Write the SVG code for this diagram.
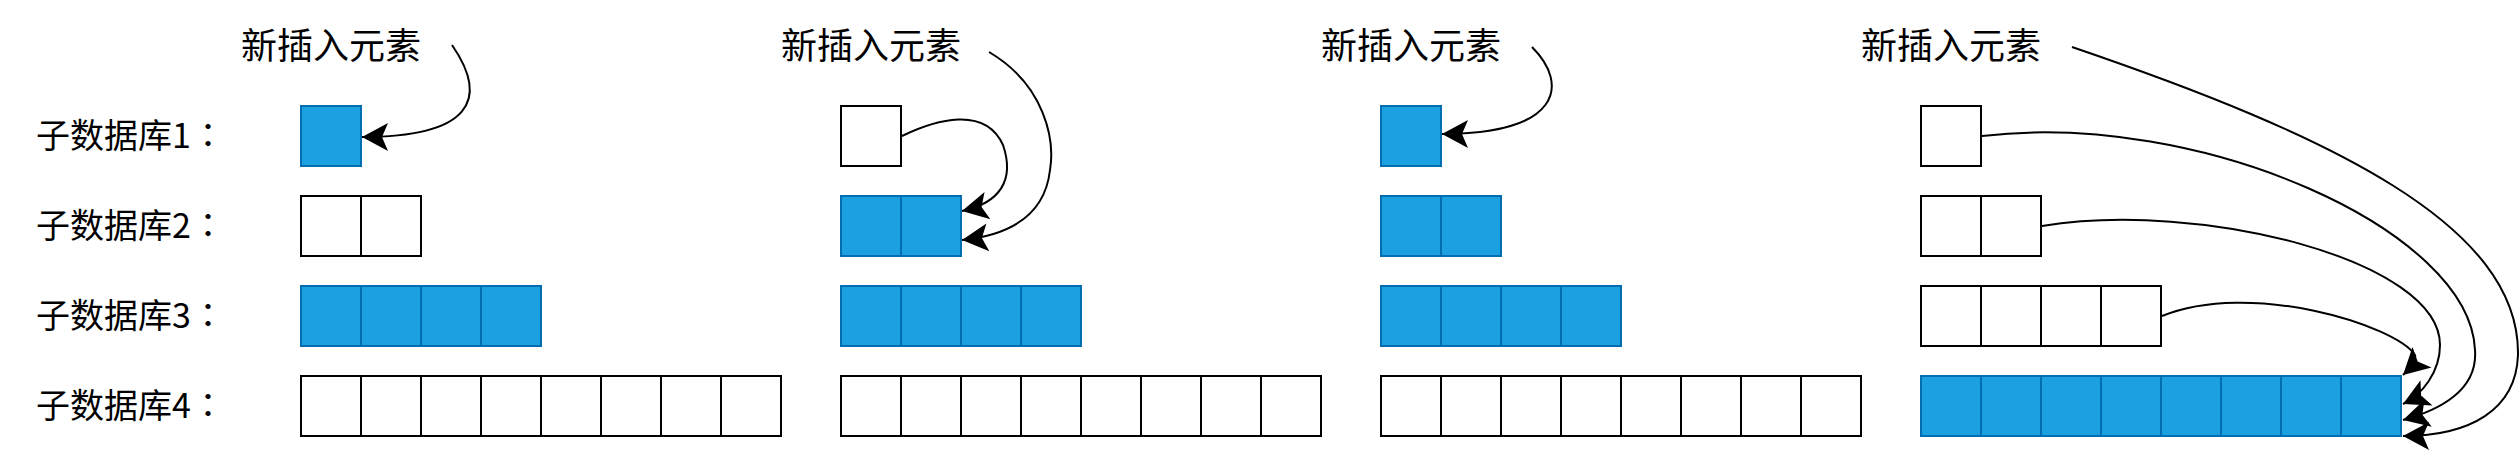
<svg xmlns="http://www.w3.org/2000/svg" width="2520" height="450" viewBox="0 0 2520 450">
<style>
.w{fill:#ffffff;stroke:#000000;stroke-width:2}
.b{fill:#1ba1e2;stroke:#006eaf;stroke-width:2}
.lbl{font-family:"Noto Sans CJK SC","Noto Sans CJK TC",sans-serif;font-size:34px;fill:#000}
.col{font-family:"Noto Sans CJK TC","Noto Sans CJK SC",sans-serif}
.top{font-family:"Noto Sans CJK SC",sans-serif;font-size:36px;fill:#000}
.edge{fill:none;stroke:#000;stroke-width:2}
</style>
<defs>
<marker id="arr" viewBox="-28 -16 30 32" refX="0" refY="0" markerWidth="30" markerHeight="32" markerUnits="userSpaceOnUse" orient="auto">
<path d="M0,0 L-26,-14 L-20,0 L-26,14 Z" fill="#000"/>
</marker>
</defs>
<rect width="2520" height="450" fill="#fff"/>
<g id="row-labels">
<text class="lbl" x="36" y="148">子数据库1<tspan class="col">：</tspan></text>
<text class="lbl" x="36" y="238">子数据库2<tspan class="col">：</tspan></text>
<text class="lbl" x="36" y="328">子数据库3<tspan class="col">：</tspan></text>
<text class="lbl" x="36" y="418">子数据库4<tspan class="col">：</tspan></text>
</g>
<g id="titles">
<text id="t1" class="top" x="331" y="59" text-anchor="middle">新插入元素</text>
<text id="t2" class="top" x="871" y="59" text-anchor="middle">新插入元素</text>
<text id="t3" class="top" x="1411" y="59" text-anchor="middle">新插入元素</text>
<text id="t4" class="top" x="1951" y="59" text-anchor="middle">新插入元素</text>
</g>
<g id="panel1" transform="translate(301,0)">
<g id="p1r1"><rect class="b" x="0" y="106" width="60" height="60"/></g>
<g id="p1r2"><rect class="w" x="0" y="196" width="60" height="60"/><rect class="w" x="60" y="196" width="60" height="60"/></g>
<g id="p1r3"><rect class="b" x="0" y="286" width="60" height="60"/><rect class="b" x="60" y="286" width="60" height="60"/><rect class="b" x="120" y="286" width="60" height="60"/><rect class="b" x="180" y="286" width="60" height="60"/></g>
<g id="p1r4"><rect class="w" x="0" y="376" width="60" height="60"/><rect class="w" x="60" y="376" width="60" height="60"/><rect class="w" x="120" y="376" width="60" height="60"/><rect class="w" x="180" y="376" width="60" height="60"/><rect class="w" x="240" y="376" width="60" height="60"/><rect class="w" x="300" y="376" width="60" height="60"/><rect class="w" x="360" y="376" width="60" height="60"/><rect class="w" x="420" y="376" width="60" height="60"/></g>
</g>
<g id="panel2" transform="translate(841,0)">
<g id="p2r1"><rect class="w" x="0" y="106" width="60" height="60"/></g>
<g id="p2r2"><rect class="b" x="0" y="196" width="60" height="60"/><rect class="b" x="60" y="196" width="60" height="60"/></g>
<g id="p2r3"><rect class="b" x="0" y="286" width="60" height="60"/><rect class="b" x="60" y="286" width="60" height="60"/><rect class="b" x="120" y="286" width="60" height="60"/><rect class="b" x="180" y="286" width="60" height="60"/></g>
<g id="p2r4"><rect class="w" x="0" y="376" width="60" height="60"/><rect class="w" x="60" y="376" width="60" height="60"/><rect class="w" x="120" y="376" width="60" height="60"/><rect class="w" x="180" y="376" width="60" height="60"/><rect class="w" x="240" y="376" width="60" height="60"/><rect class="w" x="300" y="376" width="60" height="60"/><rect class="w" x="360" y="376" width="60" height="60"/><rect class="w" x="420" y="376" width="60" height="60"/></g>
</g>
<g id="panel3" transform="translate(1381,0)">
<g id="p3r1"><rect class="b" x="0" y="106" width="60" height="60"/></g>
<g id="p3r2"><rect class="b" x="0" y="196" width="60" height="60"/><rect class="b" x="60" y="196" width="60" height="60"/></g>
<g id="p3r3"><rect class="b" x="0" y="286" width="60" height="60"/><rect class="b" x="60" y="286" width="60" height="60"/><rect class="b" x="120" y="286" width="60" height="60"/><rect class="b" x="180" y="286" width="60" height="60"/></g>
<g id="p3r4"><rect class="w" x="0" y="376" width="60" height="60"/><rect class="w" x="60" y="376" width="60" height="60"/><rect class="w" x="120" y="376" width="60" height="60"/><rect class="w" x="180" y="376" width="60" height="60"/><rect class="w" x="240" y="376" width="60" height="60"/><rect class="w" x="300" y="376" width="60" height="60"/><rect class="w" x="360" y="376" width="60" height="60"/><rect class="w" x="420" y="376" width="60" height="60"/></g>
</g>
<g id="panel4" transform="translate(1921,0)">
<g id="p4r1"><rect class="w" x="0" y="106" width="60" height="60"/></g>
<g id="p4r2"><rect class="w" x="0" y="196" width="60" height="60"/><rect class="w" x="60" y="196" width="60" height="60"/></g>
<g id="p4r3"><rect class="w" x="0" y="286" width="60" height="60"/><rect class="w" x="60" y="286" width="60" height="60"/><rect class="w" x="120" y="286" width="60" height="60"/><rect class="w" x="180" y="286" width="60" height="60"/></g>
<g id="p4r4"><rect class="b" x="0" y="376" width="60" height="60"/><rect class="b" x="60" y="376" width="60" height="60"/><rect class="b" x="120" y="376" width="60" height="60"/><rect class="b" x="180" y="376" width="60" height="60"/><rect class="b" x="240" y="376" width="60" height="60"/><rect class="b" x="300" y="376" width="60" height="60"/><rect class="b" x="360" y="376" width="60" height="60"/><rect class="b" x="420" y="376" width="60" height="60"/></g>
</g>
<g id="connectors" class="edge">
<path class="edge" marker-end="url(#arr)" d="M452,45 C490,100 470,137 362,137"/>
<path class="edge" marker-end="url(#arr)" d="M902,136 C935,120 985,105 1003,145 C1015,180 1000,203 962,211"/>
<path class="edge" marker-end="url(#arr)" d="M989,52 C1045,85 1055,140 1050,170 C1045,215 1010,235 962,240"/>
<path class="edge" marker-end="url(#arr)" d="M1532,47 C1570,85 1560,134 1442,134"/>
<path class="edge" marker-end="url(#arr)" d="M2072,47 C2330,135 2520,225 2518,355 C2516,410 2470,436 2403,436"/>
<path class="edge" marker-end="url(#arr)" d="M1982,136 C2200,110 2470,230 2475,350 C2478,390 2440,410 2403,420"/>
<path class="edge" marker-end="url(#arr)" d="M2042,226 C2200,200 2440,260 2440,345 C2440,372 2422,395 2403,404"/>
<path class="edge" marker-end="url(#arr)" d="M2162,316 C2250,280 2395,325 2415,355 Q2417,362 2403,375"/>
</g>
</svg>
